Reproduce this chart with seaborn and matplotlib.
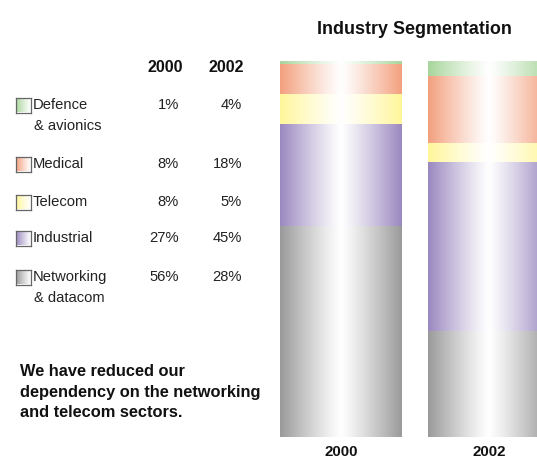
import numpy as np
import pandas as pd
import seaborn as sns
import matplotlib
matplotlib.use("Agg")
import matplotlib.pyplot as plt

# Industry segmentation data (% of revenue)
years = ["2000", "2002"]
segments = ["Networking\n& datacom", "Industrial", "Telecom", "Medical", "Defence\n& avionics"]
share_2000 = [56, 27, 8, 8, 1]
share_2002 = [28, 45, 5, 18, 4]
edge_colors = ["#9a9a9a", "#9a88c0", "#fff69a", "#f3a07e", "#a8d69c"]

title = "Industry Segmentation"
note = "We have reduced our\ndependency on the networking\nand telecom sectors."

sns.set_theme(style="white")
plt.rcParams["font.family"] = ["Liberation Sans", "DejaVu Sans"]

W, H = 537, 459
fig = plt.figure(figsize=(W / 100, H / 100), dpi=100)


def px(x, y):
    """pixel position (from top-left) -> figure fraction"""
    return x / W, 1 - y / H


def gradient(edge, n=256):
    c = np.array(matplotlib.colors.to_rgb(edge))
    t = np.abs(np.linspace(0, 1, n) - 0.5) / 0.5
    m = t ** 1.15
    return (1 - m)[:, None] + c[None, :] * m[:, None]


# long table for the stacked bars
rows = []
for year, vals in zip(years, [share_2000, share_2002]):
    for seg, v in zip(segments, vals):
        rows.append({"year": year, "segment": seg, "share": v})
df = pd.DataFrame(rows)
df["cum"] = df.groupby("year")["share"].cumsum()

# bar panel
ax = fig.add_axes([270 / W, (H - 437) / H, (W - 270) / W, (437 - 61) / H])
bar_w = 0.824
order = list(reversed(segments))
for k, seg in enumerate(order):
    sub = df[df["segment"] == seg]
    sns.barplot(data=sub, x="year", y="cum", order=years, color=edge_colors[segments.index(seg)],
                width=bar_w, ax=ax, zorder=1 + k, linewidth=0)

# replace flat fills by a cylinder-like shading
for k, seg in enumerate(order):
    ci = segments.index(seg)
    container = ax.containers[k]
    for p in container.patches:
        x0, y0 = p.get_x(), p.get_y()
        x1, y1 = x0 + p.get_width(), y0 + p.get_height()
        ax.imshow(gradient(edge_colors[ci])[None], extent=(x0, x1, y0, y1), aspect="auto",
                  interpolation="bilinear", zorder=10 + k)
        p.set_visible(False)

ax.set_xlim(-0.48, 1.324)
ax.set_ylim(0, 100)
ax.set_xlabel("")
ax.set_ylabel("")
ax.set_yticks([])
ax.set_xticks([0, 1])
ax.set_xticklabels(years, fontweight="bold", fontsize=10.8, color="#111111")
ax.tick_params(axis="x", length=0, pad=6)
for s in ax.spines.values():
    s.set_visible(False)
ax.patch.set_alpha(0)

fig.text(*px(414, 30), title, ha="center", va="center", fontsize=12.9, fontweight="bold", color="#111111")

# table with legend swatches
fig.text(*px(183, 68), years[0], ha="right", va="center", fontsize=11.5, fontweight="bold", color="#111111")
fig.text(*px(244, 68), years[1], ha="right", va="center", fontsize=11.5, fontweight="bold", color="#111111")

row_y = {"Defence\n& avionics": 105, "Medical": 164, "Telecom": 202, "Industrial": 238,
         "Networking\n& datacom": 277}
fs = 10.6
for i, seg in enumerate(segments):
    y = row_y[seg]
    first, *rest = seg.split("\n")
    fig.text(*px(33, y), first, ha="left", va="center", fontsize=fs, color="#222222")
    if rest:
        fig.text(*px(34, y + 20.5), rest[0], ha="left", va="center", fontsize=fs, color="#222222")
    fig.text(*px(179, y), f"{share_2000[i]}%", ha="right", va="center", fontsize=fs, color="#222222")
    fig.text(*px(242, y), f"{share_2002[i]}%", ha="right", va="center", fontsize=fs, color="#222222")
    sq = 15
    sax = fig.add_axes([16 / W, (H - y - sq / 2) / H, sq / W, sq / H])
    g = gradient(edge_colors[i])
    g = g[:len(g) // 2]
    sax.imshow(g[None], aspect="auto", extent=(0, 1, 0, 1), interpolation="bilinear")
    sax.set_xticks([])
    sax.set_yticks([])
    for s in sax.spines.values():
        s.set_edgecolor("#666666")
        s.set_linewidth(0.9)

fig.text(*px(20, 392), note, ha="left", va="center", fontsize=11.8, fontweight="bold",
         color="#111111", linespacing=1.42)

fig.savefig("out.png", dpi=100)
